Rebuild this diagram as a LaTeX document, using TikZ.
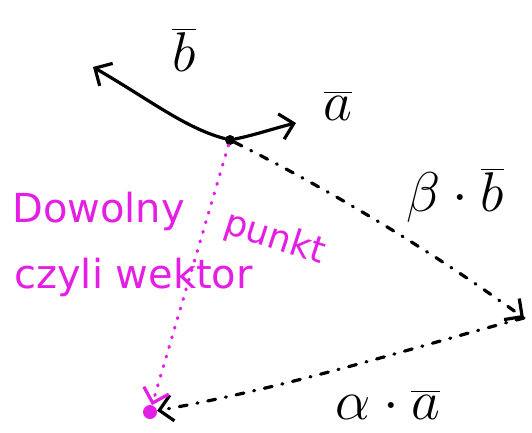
\RequirePackage{fix-cm}
\documentclass[tikz,border=0pt]{standalone}
\usepackage{amsmath}
\usepackage{fontspec}
\newfontfamily\handfont{DejaVu Sans}
\usepackage{tikz}
\usetikzlibrary{arrows.meta}
\definecolor{punktcol}{RGB}{228,30,228}
\begin{document}
\begin{tikzpicture}[x=1pt,y=-1pt]
    \tikzstyle{vec}=[line width=3.2pt,line cap=round,-{Straight Barb[length=13pt,width=26pt,line width=3.2pt]}]
    \tikzstyle{dots}=[vec,dash pattern=on 8pt off 10pt on 1pt off 10pt]
    \tikzstyle{pdots}=[dots,draw=punktcol,dash pattern=on 1pt off 9pt]
    \tikzstyle{sym}=[font=\fontsize{56}{56}\selectfont,inner sep=0pt]
    \tikzstyle{note}=[text=punktcol,font=\handfont\fontsize{40}{40}\selectfont,anchor=base west,inner sep=0pt]

    \useasboundingbox (0,0) rectangle (532,432);

    % punkty
    \node[circle,fill=black,inner sep=0pt,minimum size=10pt] (O) at (230,140) {};
    \node[circle,fill=punktcol,inner sep=0pt,minimum size=14pt] (P) at (150,412) {};
    \coordinate (btip) at (93,67);
    \coordinate (atip) at (296,123);
    \coordinate (C) at (524,318);

    % wektory bazowe
    \draw[vec] (O) .. controls (185,128) and (150,100) .. (btip);
    \draw[vec] (O) .. controls (255,135) and (275,128) .. (atip);

    % kombinacja
    \draw[dots] (O) .. controls (330,190) and (430,250) .. (C);
    \draw[dots] (C) .. controls (420,345) and (300,385) .. (P);
    \draw[pdots] (O) -- (P);

    % etykiety
    \node[sym] (b label) at (184,50) {$\overline{b}$};
    \node[sym] (a label) at (338,106) {$\overline{a}$};
    \node[sym] (bb label) at (455,195) {$\beta\cdot\overline{b}$};
    \node[sym] (aa label) at (388,405) {$\alpha\cdot\overline{a}$};

    \node[note] (dowolny) at (12,222) {Dowolny};
    \node[note,font=\handfont\fontsize{36}{36}\selectfont,rotate=-18] (punkt) at (222,232) {punkt};
    \node[note] (czyli) at (14,288) {czyli wektor};
\end{tikzpicture}
\end{document}
